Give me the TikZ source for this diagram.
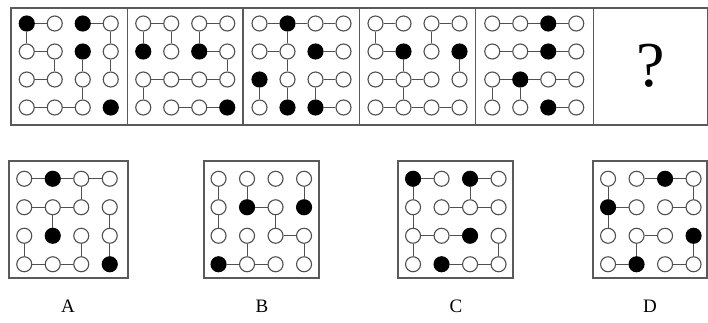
\documentclass[tikz,border=0pt]{standalone}
\usepackage{fontspec}
\setmainfont{Liberation Serif}
\makeatletter
\newcommand\myifin[2]{\edef\mytmp{\noexpand\in@{#1}{#2}}\mytmp\ifin@\def\myres{1}\else\def\myres{0}\fi}
\makeatother
\def\gsp{28}
\newcommand\pgrid[6]{%
  \foreach \r in {1,2,3,4}{%
    \foreach \c in {1,2,3,4}{%
      \myifin{,\r-\c,}{,#4,}%
      \node[cir, f\myres] (#1-\r-\c) at ({#2+(\c-2.5)*\gsp},{#3+(\r-2.5)*\gsp}) {};
    }%
  }%
  \foreach \r/\c in {#5}{%
    \pgfmathtruncatemacro\cc{\c+1}%
    \draw[ln] (#1-\r-\c) -- (#1-\r-\cc);
  }%
  \foreach \r/\c in {#6}{%
    \pgfmathtruncatemacro\rr{\r+1}%
    \draw[ln] (#1-\r-\c) -- (#1-\rr-\c);
  }%
}
\definecolor{cgray}{HTML}{505050}
\definecolor{fgray}{HTML}{5A5A5A}
\tikzset{
  cir/.style={circle, draw=cgray, line width=1.1pt, minimum size=15pt, inner sep=0pt},
  f0/.style={fill=white},
  f1/.style={fill=black, draw=black},
  ln/.style={draw=cgray, line width=1pt},
  frame/.style={draw=fgray, line width=1.6pt},
  lab/.style={font=\fontsize{19}{19}\selectfont, inner sep=0pt}
}
\begin{document}
\begin{tikzpicture}[x=1pt,y=-1pt]
\useasboundingbox (0,0) rectangle (708,322);
\fill[white] (0,0) rectangle (708,322);
% top row frames
\node[frame, rectangle, minimum width=697pt, minimum height=117pt, inner sep=0pt, anchor=north west] (topframe) at (10,7) {};
\coordinate (d1t) at (127.5,7); \coordinate (d1b) at (127.5,124);
\coordinate (d2t) at (243,7); \coordinate (d2b) at (243,124);
\coordinate (d3t) at (359.5,7); \coordinate (d3b) at (359.5,124);
\coordinate (d4t) at (475.5,7); \coordinate (d4b) at (475.5,124);
\coordinate (d5t) at (593.5,7); \coordinate (d5b) at (593.5,124);
\draw[frame] (d1t) -- (d1b);
\draw[frame] (d2t) -- (d2b);
\draw[frame] (d3t) -- (d3b);
\draw[frame] (d4t) -- (d4b);
\draw[frame] (d5t) -- (d5b);
% panel 1
\pgrid{p1}{68.75}{65.5}{1-1,1-3,2-3,4-4}{1/1,1/3,2/1,3/1,4/1,4/2}{1/1,1/4,2/2,2/3,2/4,3/3}
% panel 2
\pgrid{p2}{185.25}{65.5}{2-1,2-3,4-4}{1/1,1/3,2/3,3/1,3/2,3/3,4/2,4/3}{1/1,1/2,1/3,2/4,3/1}
% panel 3
\pgrid{p3}{301.5}{65.5}{1-2,2-3,3-1,4-2,4-3}{1/1,1/2,1/3,2/1,2/3,3/3,4/3}{1/2,2/2,3/1,3/2,3/3}
% panel 4
\pgrid{p4}{417.5}{65.5}{2-2,2-4}{1/1,1/3,2/1,3/1,3/2,4/1,4/2,4/3}{1/1,1/3,2/2,2/4,3/2}
% panel 5
\pgrid{p5}{534.25}{65.5}{1-3,2-3,3-2,4-3}{1/1,1/2,1/3,2/1,2/2,2/3,3/1,3/2,3/3,4/3}{3/1,3/2}
% panel 6
\node[font=\fontsize{64}{64}\selectfont, inner sep=0pt] (qm) at (650.25,66) {?};
% options
\def\gsp{28.5}
\node[frame, rectangle, minimum width=119pt, minimum height=117pt, inner sep=0pt] (boxA) at (68.5,219.5) {};
\node[frame, rectangle, minimum width=115pt, minimum height=117pt, inner sep=0pt] (boxB) at (261.5,219.5) {};
\node[frame, rectangle, minimum width=115pt, minimum height=117pt, inner sep=0pt] (boxC) at (455.5,219.5) {};
\node[frame, rectangle, minimum width=114pt, minimum height=117pt, inner sep=0pt] (boxD) at (650,219.5) {};
\pgrid{oA}{67}{221.5}{1-2,3-2,4-4}{1/1,1/2,1/3,2/1,2/2,4/1,4/2}{1/3,2/2,2/4,3/1,3/3,3/4}
\pgrid{oB}{261.3}{221.5}{2-2,2-4,4-1}{2/2,3/3,4/1,4/2}{1/1,1/2,1/4,2/1,2/3,3/2,3/4}
\pgrid{oC}{455.8}{221.5}{1-1,1-3,3-3,4-2}{1/1,1/3,2/2,2/3,3/1,3/2,4/2,4/3}{1/1,1/3,2/1,3/1,3/4}
\pgrid{oD}{650.8}{221.5}{1-3,2-1,3-4,4-2}{1/2,1/3,2/1,2/3,3/2,4/1,4/3}{1/1,1/4,2/1,3/2,3/4}
% labels
\node[lab] (lA) at (68,306) {A};
\node[lab] (lB) at (262,306) {B};
\node[lab] (lC) at (456,306) {C};
\node[lab] (lD) at (650,306) {D};
\end{tikzpicture}
\end{document}
